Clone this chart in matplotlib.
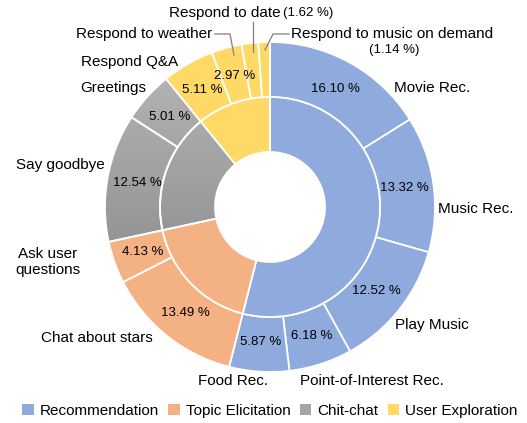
import numpy as np
import matplotlib.pyplot as plt
from matplotlib.patches import Patch
from matplotlib.colors import LinearSegmentedColormap

plt.rcParams['font.family'] = ['Liberation Sans', 'DejaVu Sans']

# 外圈: 各意图
sub_labels = ['Movie Rec.', 'Music Rec.', 'Play Music', 'Point-of-Interest Rec.', 'Food Rec.',
              'Chat about stars', 'Ask user\nquestions',
              'Say goodbye', 'Greetings',
              'Respond Q&A', 'Respond to weather', 'Respond to date', 'Respond to music on demand']
sub_values = [16.10, 13.32, 12.52, 6.18, 5.87,
              13.49, 4.13,
              12.54, 5.01,
              5.11, 2.97, 1.62, 1.14]
sub_group = [0, 0, 0, 0, 0, 1, 1, 2, 2, 3, 3, 3, 3]

# 内圈: 大类
groups = ['Recommendation', 'Topic Elicitation', 'Chit-chat', 'User Exploration']
group_colors = ['#8FAADC', '#F4B183', '#A5A5A5', '#FFD966']
group_values = [sum(v for v, g in zip(sub_values, sub_group) if g == k) for k in range(4)]

W, H = 527, 423
cx, cy = 270, H - 207
R_out, R_mid, R_in = 165, 110, 55


def Y(y):
    return H - y


fig = plt.figure(figsize=(W / 100, H / 100), dpi=100)
ax = fig.add_axes([0, 0, 1, 1])

outer, _ = ax.pie(sub_values, radius=R_out, center=(cx, cy), startangle=90, counterclock=False,
                  colors=[group_colors[g] for g in sub_group],
                  wedgeprops=dict(width=R_out - R_mid, edgecolor='white', linewidth=1.3))
inner, _ = ax.pie(group_values, radius=R_mid, center=(cx, cy), startangle=90, counterclock=False,
                  colors=group_colors,
                  wedgeprops=dict(width=R_mid - R_in, edgecolor='white', linewidth=1.3))

# 灰色渐变
grad = np.linspace(0, 1, 256).reshape(-1, 1)
gcmap = LinearSegmentedColormap.from_list('g', ['#8A8A8A', '#B4B4B4'])
for w in [outer[7], outer[8], inner[2]]:
    im = ax.imshow(grad, cmap=gcmap, extent=(cx - R_out, cx, Y(300), Y(70)),
                   origin='lower', aspect='auto', zorder=w.get_zorder() - 0.01)
    im.set_clip_path(w)
    w.set_facecolor('none')

# 百分比 (外圈中部)
cum = np.cumsum([0] + sub_values)
r_pct = 0.82 * R_out
for i, v in enumerate(sub_values):
    if v < 2:
        continue
    mid = (cum[i] + cum[i + 1]) / 2 / 100 * 2 * np.pi
    ax.text(cx + r_pct * np.sin(mid), cy + r_pct * np.cos(mid), f'{v:.2f} %',
            ha='center', va='center', fontsize=9.5)

# 外部标签
label_pos = [(432, 88), (476, 209), (432, 325), (372, 381), (233, 381),
             (97, 338), (48, 262), (60, 165), (113, 88), (130, 62)]
for (x, y), lab in zip(label_pos, sub_labels):
    ax.text(x, Y(y), lab, ha='center', va='center', fontsize=11)

lc = '#7F7F7F'
ax.text(212, Y(34), sub_labels[10], ha='right', va='center', fontsize=11)
ax.plot([215, 230, 234], [Y(34), Y(34), Y(55)], color=lc, lw=0.9)

ax.text(281, Y(13), sub_labels[11], ha='right', va='center', fontsize=11)
ax.text(283, Y(13), f'({sub_values[11]:.2f} %)', ha='left', va='center', fontsize=9.5)
ax.plot([253, 253], [Y(22), Y(52)], color=lc, lw=0.9)

ax.text(291, Y(34), sub_labels[12], ha='left', va='center', fontsize=11)
ax.text(394, Y(50), f'({sub_values[12]:.2f} %)', ha='center', va='center', fontsize=9.5)
ax.plot([289, 273, 265], [Y(34), Y(34), Y(50)], color=lc, lw=0.9)

handles = [Patch(facecolor=c, edgecolor='none') for c in group_colors]
ax.legend(handles, groups, loc='center', bbox_to_anchor=(270 / W, 1 - 411 / H),
          ncol=4, frameon=False, fontsize=11, handlelength=0.75, handleheight=0.75,
          handletextpad=0.4, columnspacing=0.6, borderaxespad=0)

ax.set_xlim(0, W)
ax.set_ylim(0, H)
ax.set_aspect('equal')
ax.axis('off')
fig.savefig('out.png', dpi=100)
